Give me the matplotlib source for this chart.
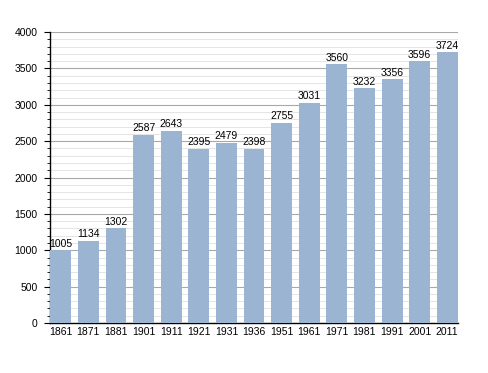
import matplotlib
matplotlib.use("Agg")
import matplotlib.pyplot as plt
from matplotlib.ticker import MultipleLocator

years = ["1861", "1871", "1881", "1901", "1911", "1921", "1931", "1936",
         "1951", "1961", "1971", "1981", "1991", "2001", "2011"]
population = [1005, 1134, 1302, 2587, 2643, 2395, 2479, 2398,
              2755, 3031, 3560, 3232, 3356, 3596, 3724]

plt.rcParams['font.family'] = ['Liberation Sans', 'DejaVu Sans']

fig = plt.figure(figsize=(4.88, 3.73), dpi=100)
ax = fig.add_axes([0.1025, 0.134, 0.836, 0.780])

x = range(len(years))
bars = ax.bar(x, population, width=0.76, color="#9ab4d1", zorder=3)
ax.bar_label(bars, labels=[str(v) for v in population], padding=1, fontsize=7.5, zorder=4)

ax.set_xlim(-0.39, len(years) - 0.61)
ax.set_ylim(0, 4000)
ax.set_xticks(list(x))
ax.set_xticklabels(years)
ax.yaxis.set_major_locator(MultipleLocator(500))
ax.yaxis.set_minor_locator(MultipleLocator(100))
ax.grid(axis="y", which="major", color="#a8a8a8", linewidth=0.8, zorder=1)
ax.grid(axis="y", which="minor", color="#e0e0e0", linewidth=0.6, zorder=1)

for s in ["top", "right"]:
    ax.spines[s].set_visible(False)
ax.spines["left"].set_linewidth(1.0)
ax.spines["bottom"].set_linewidth(1.0)
ax.tick_params(axis="x", length=0, labelsize=7.5, pad=3)
ax.tick_params(axis="y", which="major", length=4, labelsize=7.5, pad=5)
ax.tick_params(axis="y", which="minor", length=2)

fig.savefig("out.png", dpi=100)
